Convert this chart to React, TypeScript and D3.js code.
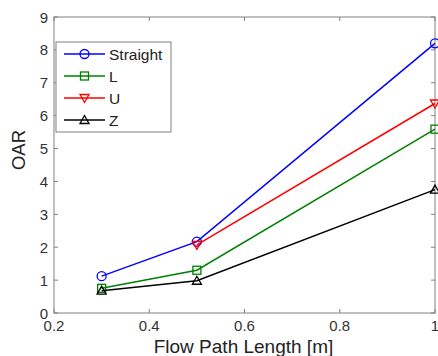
import React from "react";
import * as d3 from "d3";

const lengths = [0.3, 0.5, 1.0];
const seriesNames = ["Straight", "L", "U", "Z"];
const seriesColors = ["#0000ff", "#008000", "#ff0000", "#000000"];
const straight = [1.12, 2.17, 8.2];
const lShape = [0.75, 1.3, 5.59];
const uShape = [null, 2.07, 6.37];
const zShape = [0.68, 0.98, 3.75];
const xTicks = [0.2, 0.4, 0.6, 0.8, 1];
const yTicks = [0, 1, 2, 3, 4, 5, 6, 7, 8, 9];

const W = 438;
const H = 356;
const m = { left: 54, right: 3, top: 17, bottom: 43 };

const Marker = ({ kind, x, y, color }: { kind: number; x: number; y: number; color: string }) => {
  const s = 4.5;
  if (kind === 0) return <circle cx={x} cy={y} r={s} fill="none" stroke={color} strokeWidth={1.3} />;
  if (kind === 1)
    return <rect x={x - s + 0.5} y={y - s + 0.5} width={2 * s - 1} height={2 * s - 1} fill="none" stroke={color} strokeWidth={1.3} />;
  if (kind === 2)
    return <path d={`M${x - s},${y - s + 1}L${x + s},${y - s + 1}L${x},${y + s}Z`} fill="none" stroke={color} strokeWidth={1.3} />;
  return <path d={`M${x - s},${y + s - 1}L${x + s},${y + s - 1}L${x},${y - s}Z`} fill="none" stroke={color} strokeWidth={1.3} />;
};

export default function App() {
  const x = d3.scaleLinear().domain([0.2, 1]).range([m.left, W - m.right]);
  const y = d3.scaleLinear().domain([0, 9]).range([H - m.bottom, m.top]);
  const all = [straight, lShape, uShape, zShape];
  const line = d3
    .line<number | null>()
    .defined((d) => d != null)
    .x((_, i) => x(lengths[i]))
    .y((d) => y(d as number));
  const axisColor = "#808080";
  const textColor = "#333";
  const font = "Arial, 'Liberation Sans', sans-serif";

  return (
    <svg width={W} height={H} style={{ position: "absolute", left: 0, top: 0, background: "#fff" }} fontFamily={font}>
      <rect x={x(0.2)} y={y(9)} width={x(1) - x(0.2)} height={y(0) - y(9)} fill="#fff" stroke={axisColor} strokeWidth={1} />
      {xTicks.map((t) => (
        <g key={"x" + t}>
          <line x1={x(t)} x2={x(t)} y1={y(0)} y2={y(0) - 4} stroke={axisColor} />
          <line x1={x(t)} x2={x(t)} y1={y(9)} y2={y(9) + 4} stroke={axisColor} />
          <text x={x(t)} y={y(0) + 18} textAnchor="middle" fontSize={15} fill={textColor}>
            {t === 1 ? "1" : t.toFixed(1)}
          </text>
        </g>
      ))}
      {yTicks.map((t) => (
        <g key={"y" + t}>
          <line x1={x(0.2)} x2={x(0.2) + 4} y1={y(t)} y2={y(t)} stroke={axisColor} />
          <line x1={x(1)} x2={x(1) - 4} y1={y(t)} y2={y(t)} stroke={axisColor} />
          <text x={x(0.2) - 6} y={y(t) + 5.5} textAnchor="end" fontSize={15} fill={textColor}>
            {t}
          </text>
        </g>
      ))}
      <text x={243.5} y={353} textAnchor="middle" fontSize={19} fill="#222">
        Flow Path Length [m]
      </text>
      <text transform={`translate(25,150) rotate(-90)`} textAnchor="middle" fontSize={18.5} fill="#222">
        OAR
      </text>
      {all.map((s, k) => (
        <g key={seriesNames[k]}>
          <path d={line(s) || ""} fill="none" stroke={seriesColors[k]} strokeWidth={1.5} />
          {s.map((v, i) =>
            v == null ? null : <Marker key={i} kind={k} x={x(lengths[i])} y={y(v)} color={seriesColors[k]} />
          )}
        </g>
      ))}
      <g>
        <rect x={56} y={42} width={115} height={90} fill="#fff" stroke={axisColor} strokeWidth={1} />
        {seriesNames.map((n, k) => {
          const ly = 54 + k * 22;
          return (
            <g key={n}>
              <line x1={64} x2={105} y1={ly} y2={ly} stroke={seriesColors[k]} strokeWidth={1.5} />
              <Marker kind={k} x={84.5} y={ly} color={seriesColors[k]} />
              <text x={109} y={ly + 5.5} fontSize={15.5} fill="#222">
                {n}
              </text>
            </g>
          );
        })}
      </g>
    </svg>
  );
}
